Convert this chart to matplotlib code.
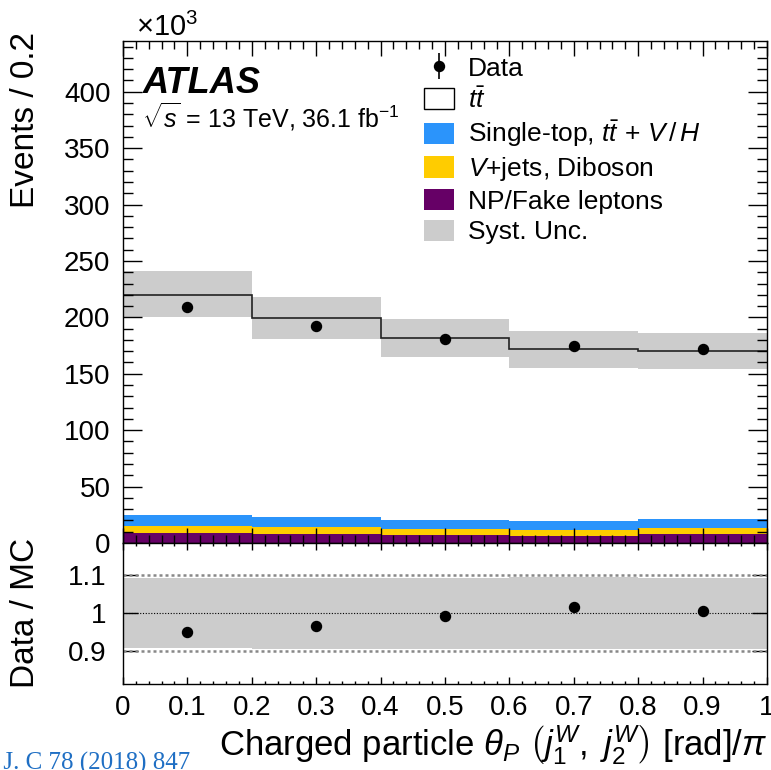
import numpy as np
import matplotlib
matplotlib.use("Agg")
import matplotlib.pyplot as plt
from matplotlib.patches import Patch

plt.rcParams['font.family'] = ['Liberation Sans', 'DejaVu Sans']
plt.rcParams['mathtext.fontset'] = 'custom'
plt.rcParams['mathtext.rm'] = 'Liberation Sans'
plt.rcParams['mathtext.it'] = 'Liberation Sans:italic'
plt.rcParams['mathtext.bf'] = 'Liberation Sans:bold'

# --- binning and yields (in units of 10^3 events) ---
edges = [0.0, 0.2, 0.4, 0.6, 0.8, 1.0]
centers = [0.1, 0.3, 0.5, 0.7, 0.9]

np_fake = [8.7, 8.1, 7.0, 6.3, 8.3]
vjets_diboson = [6.4, 6.4, 5.3, 5.3, 5.0]
single_top = [9.6, 8.2, 7.7, 7.9, 7.7]
ttbar = [195.5, 176.5, 162.1, 152.2, 149.6]

syst_up = [240.7, 217.8, 198.9, 188.0, 186.5]
syst_down = [199.9, 180.6, 165.0, 155.5, 154.3]

data = [209.3, 192.7, 180.6, 174.4, 171.7]
data_err = [0.46, 0.44, 0.42, 0.42, 0.41]

col_single = '#2b94fb'
col_vjets = '#ffcc00'
col_np = '#660066'
col_syst = '#cccccc'

# --- figure layout ---
fig = plt.figure(figsize=(7.71, 7.70), dpi=100)
ax = fig.add_axes([0.1595, 0.2948, 0.8353, 0.6520])
rax = fig.add_axes([0.1595, 0.1123, 0.8353, 0.1825], sharex=ax)

# stacked backgrounds
b0 = np.zeros(5)
b1 = b0 + np.array(np_fake)
b2 = b1 + np.array(vjets_diboson)
b3 = b2 + np.array(single_top)
total = b3 + np.array(ttbar)

ax.stairs(b1, edges, baseline=b0, fill=True, color=col_np, lw=0)
ax.stairs(b2, edges, baseline=b1, fill=True, color=col_vjets, lw=0)
ax.stairs(b3, edges, baseline=b2, fill=True, color=col_single, lw=0)
ax.stairs(syst_up, edges, baseline=syst_down, fill=True, color=col_syst, lw=0)
ax.stairs(total, edges, baseline=None, color='#222222', lw=1.2)

ax.errorbar(centers, data, yerr=data_err, fmt='o', color='black',
            markersize=7.2, elinewidth=1.2, capsize=0)

ax.set_xlim(0, 1)
ax.set_ylim(0, 445)
ax.set_yticks(np.arange(0, 401, 50))
ax.set_yticks(np.arange(0, 441, 10), minor=True)
ax.set_xticks(np.arange(0, 1.01, 0.1))
ax.set_xticks(np.arange(0, 1.001, 0.02), minor=True)
ax.tick_params(which='both', direction='in', top=True, right=True,
               labelbottom=False, width=1.0, labelsize=20, pad=9)
ax.tick_params(axis='y', which='major', length=14)
ax.tick_params(axis='y', which='minor', length=7)
ax.tick_params(axis='x', which='major', length=11)
ax.tick_params(axis='x', which='minor', length=5.5)

ax.set_ylabel('Events / 0.2', fontsize=24, loc='top')
ax.yaxis.set_label_coords(-0.128, 1.018)

ax.text(0.02, 1.028, r'$\times10^{3}$', transform=ax.transAxes,
        fontsize=21, ha='left', va='center')
ax.text(0.031, 0.916, 'ATLAS', transform=ax.transAxes, fontsize=26,
        fontweight='bold', fontstyle='italic', ha='left', va='center')
ax.text(0.0295, 0.849, r'$\sqrt{s}$ = 13 TeV, 36.1 fb$^{-1}$',
        transform=ax.transAxes, fontsize=18, ha='left', va='center')

handles = [
    ax.containers[0],
    Patch(facecolor='white', edgecolor='black', lw=1.0),
    Patch(facecolor=col_single, edgecolor='none'),
    Patch(facecolor=col_vjets, edgecolor='none'),
    Patch(facecolor=col_np, edgecolor='none'),
    Patch(facecolor=col_syst, edgecolor='none'),
]
labels = ['Data', r'$t\bar{t}$', r'Single-top, $t\bar{t}\,+\,V\,/\,H$',
          r'$V$+jets, Diboson', 'NP/Fake leptons', 'Syst. Unc.']
ax.legend(handles, labels, loc='upper left', bbox_to_anchor=(0.467, 0.97),
          frameon=False, fontsize=19, borderpad=0, borderaxespad=0,
          handlelength=1.14, handleheight=0.87, handletextpad=0.53,
          labelspacing=0.22)

# --- ratio panel ---
mc = total
ratio = np.array(data) / mc
rax.stairs(np.array(syst_up) / mc, edges, baseline=np.array(syst_down) / mc,
           fill=True, color=col_syst, lw=0)
rax.axhline(1.1, color='#888888', lw=1.8, ls=(0, (1.2, 1.2)))
rax.axhline(0.9, color='#888888', lw=1.8, ls=(0, (1.2, 1.2)))
rax.axhline(1.0, color='black', lw=0.8, ls=(0, (1, 1.5)))
rax.plot(centers, ratio, 'o', color='black', markersize=7.2)

rax.set_ylim(0.814, 1.186)
rax.set_yticks([0.9, 1.0, 1.1])
rax.set_yticklabels(['0.9', '1', '1.1'])
rax.set_xticks(np.arange(0, 1.01, 0.1))
rax.set_xticklabels(['0', '0.1', '0.2', '0.3', '0.4', '0.5', '0.6',
                     '0.7', '0.8', '0.9', '1'])
rax.tick_params(which='both', direction='in', top=True, right=True,
                width=1.0, labelsize=20)
rax.tick_params(axis='y', which='major', length=11, pad=12)
rax.tick_params(axis='x', which='major', length=5, pad=8)
rax.tick_params(axis='x', which='minor', length=2.5)

rax.set_ylabel('Data / MC', fontsize=24)
rax.yaxis.set_label_coords(-0.128, 0.5)
rax.set_xlabel(r'Charged particle $\theta_P\ \left(j_1^W,\ j_2^W\right)$ [rad]$/\pi$',
               fontsize=25, loc='right')
rax.xaxis.set_label_coords(1.0, -0.28)

for a in (ax, rax):
    for s in a.spines.values():
        s.set_linewidth(1.0)

fig.text(190 / 771, 0.0, 'Eur. Phys. J. C 78 (2018) 847', color='#1f6fc4',
         fontsize=18, family='Liberation Serif', ha='right', va='baseline')

fig.savefig('out.png', dpi=100)
